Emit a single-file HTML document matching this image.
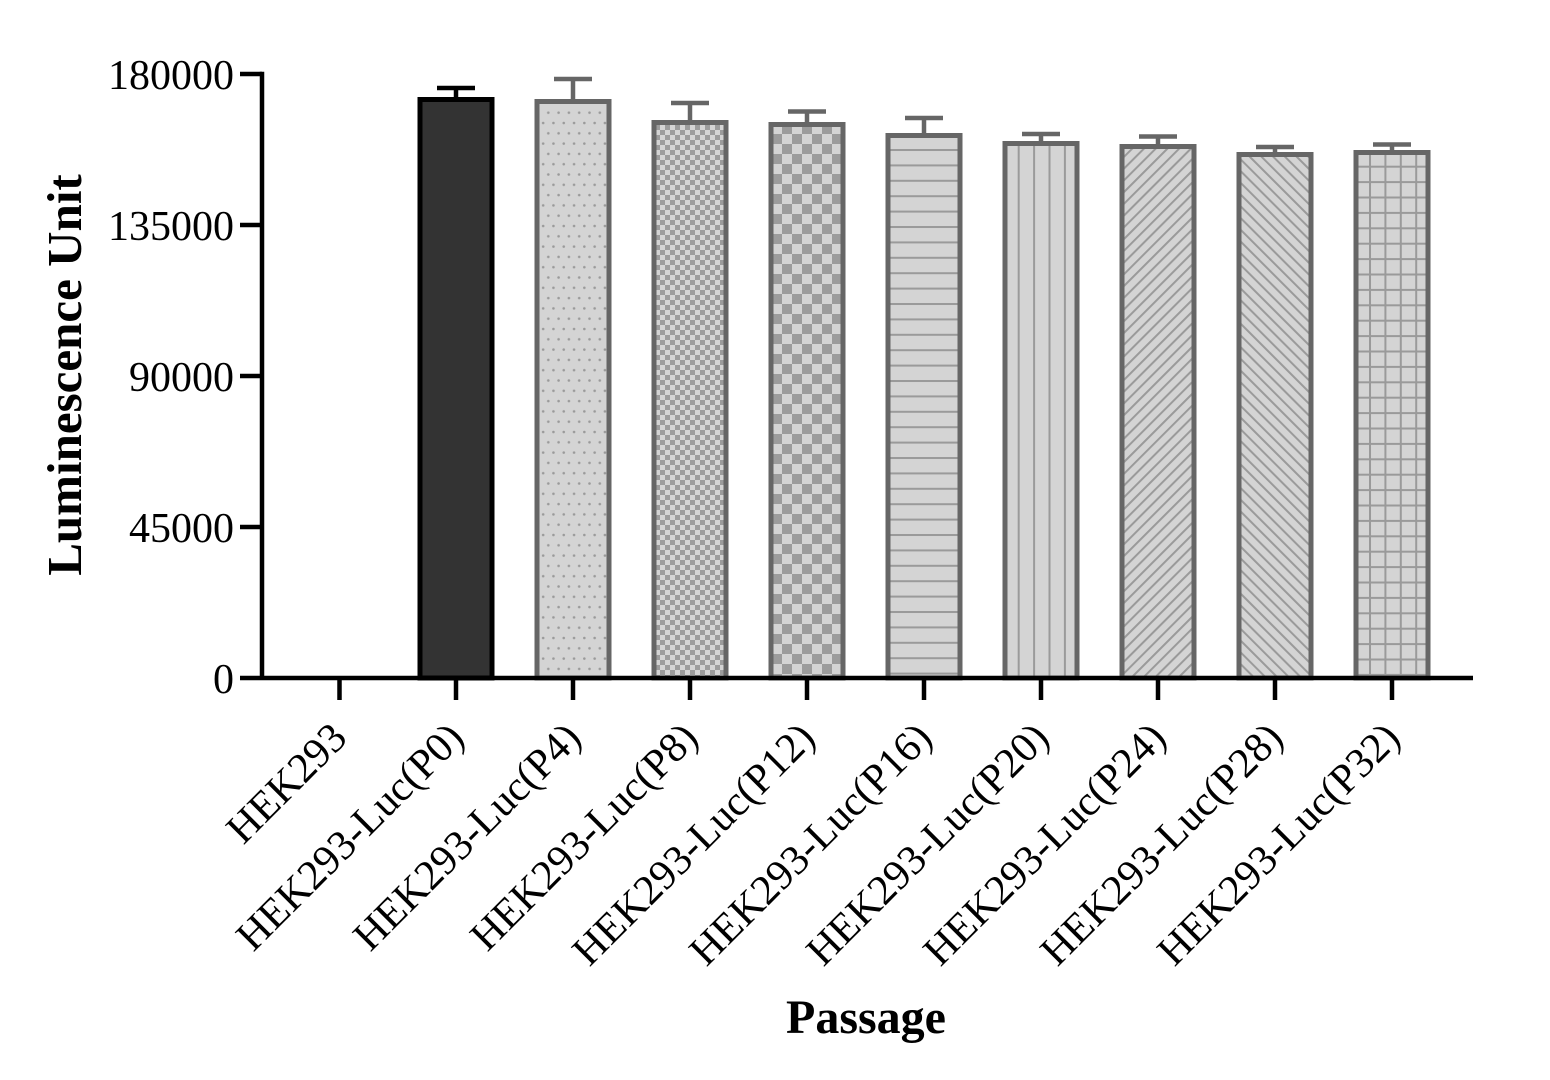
<!DOCTYPE html>
<html>
<head>
<meta charset="utf-8">
<style>
  html,body{margin:0;padding:0;background:#fff;}
  svg{display:block;}
  text{font-family:"Liberation Serif","Times New Roman",serif;fill:#000;}
</style>
</head>
<body>
<svg width="1550" height="1080" viewBox="0 0 1550 1080" xmlns="http://www.w3.org/2000/svg">
  <defs>
    <pattern id="dots" patternUnits="userSpaceOnUse" width="10.3" height="20.6" x="545.8" y="110.2">
      <rect width="10.3" height="20.6" fill="#d4d4d4"/>
      <circle cx="2.5" cy="2.5" r="1.3" fill="#9a9a9a"/>
      <circle cx="7.65" cy="12.8" r="1.3" fill="#9a9a9a"/>
    </pattern>
    <pattern id="chk5" patternUnits="userSpaceOnUse" width="10" height="10" x="0" y="0">
      <rect width="10" height="10" fill="#d4d4d4"/>
      <rect width="5" height="5" fill="#9c9c9c"/>
      <rect x="5" y="5" width="5" height="5" fill="#9c9c9c"/>
    </pattern>
    <pattern id="chk10" patternUnits="userSpaceOnUse" width="20" height="20" x="2" y="4">
      <rect width="20" height="20" fill="#d4d4d4"/>
      <rect width="10" height="10" fill="#9c9c9c"/>
      <rect x="10" y="10" width="10" height="10" fill="#9c9c9c"/>
    </pattern>
    <pattern id="hl" patternUnits="userSpaceOnUse" width="20" height="15.4" x="0" y="149">
      <rect width="20" height="15.4" fill="#d4d4d4"/>
      <rect width="20" height="2" fill="#9a9a9a"/>
    </pattern>
    <pattern id="vl" patternUnits="userSpaceOnUse" width="15.4" height="20" x="1017.7" y="0">
      <rect width="15.4" height="20" fill="#d4d4d4"/>
      <rect width="2" height="20" fill="#9a9a9a"/>
    </pattern>
    <pattern id="dup" patternUnits="userSpaceOnUse" width="8.3" height="20" patternTransform="rotate(45)">
      <rect width="8.3" height="20" fill="#d4d4d4"/>
      <rect width="2" height="20" fill="#9a9a9a"/>
    </pattern>
    <pattern id="ddn" patternUnits="userSpaceOnUse" width="8.3" height="20" patternTransform="rotate(-45)">
      <rect width="8.3" height="20" fill="#d4d4d4"/>
      <rect width="2" height="20" fill="#9a9a9a"/>
    </pattern>
    <pattern id="grid" patternUnits="userSpaceOnUse" width="15.4" height="15.4" x="1369" y="165.7">
      <rect width="15.4" height="15.4" fill="#d4d4d4"/>
      <rect width="2" height="15.4" fill="#9a9a9a"/>
      <rect width="15.4" height="2" fill="#9a9a9a"/>
    </pattern>
  </defs>

  <!-- error bars -->
  <g stroke-width="4.5" fill="none">
    <g stroke="#000">
      <line x1="456" y1="88" x2="456" y2="100"/>
      <line x1="437" y1="88" x2="475" y2="88"/>
    </g>
    <g stroke="#666">
      <line x1="573" y1="79" x2="573" y2="102"/>
      <line x1="554" y1="79" x2="592" y2="79"/>
      <line x1="690" y1="103" x2="690" y2="123"/>
      <line x1="671" y1="103" x2="709" y2="103"/>
      <line x1="807" y1="111.5" x2="807" y2="125"/>
      <line x1="788" y1="111.5" x2="826" y2="111.5"/>
      <line x1="924" y1="118" x2="924" y2="136"/>
      <line x1="905" y1="118" x2="943" y2="118"/>
      <line x1="1041" y1="134" x2="1041" y2="144"/>
      <line x1="1022" y1="134" x2="1060" y2="134"/>
      <line x1="1158" y1="136.5" x2="1158" y2="147"/>
      <line x1="1139" y1="136.5" x2="1177" y2="136.5"/>
      <line x1="1275" y1="147" x2="1275" y2="155"/>
      <line x1="1256" y1="147" x2="1294" y2="147"/>
      <line x1="1392" y1="144.5" x2="1392" y2="153"/>
      <line x1="1373" y1="144.5" x2="1411" y2="144.5"/>
    </g>
  </g>

  <!-- bars -->
  <g stroke-width="5">
    <rect x="420" y="99.5" width="72" height="578.5" fill="#333" stroke="#000"/>
    <rect x="537" y="101.5" width="72" height="576.5" fill="url(#dots)" stroke="#666"/>
    <rect x="654" y="122.5" width="72" height="555.5" fill="url(#chk5)" stroke="#666"/>
    <rect x="771" y="124.5" width="72" height="553.5" fill="url(#chk10)" stroke="#666"/>
    <rect x="888" y="135.5" width="72" height="542.5" fill="url(#hl)" stroke="#666"/>
    <rect x="1005" y="143.5" width="72" height="534.5" fill="url(#vl)" stroke="#666"/>
    <rect x="1122" y="146.5" width="72" height="531.5" fill="url(#dup)" stroke="#666"/>
    <rect x="1239" y="154.5" width="72" height="523.5" fill="url(#ddn)" stroke="#666"/>
    <rect x="1356" y="152.5" width="72" height="525.5" fill="url(#grid)" stroke="#666"/>
  </g>

  <!-- axes -->
  <g stroke="#000" stroke-width="4.5" fill="none">
    <line x1="262" y1="71.8" x2="262" y2="680"/>
    <line x1="240" y1="678" x2="1473" y2="678"/>
    <line x1="240" y1="74" x2="262" y2="74"/>
    <line x1="240" y1="225" x2="262" y2="225"/>
    <line x1="240" y1="376" x2="262" y2="376"/>
    <line x1="240" y1="527" x2="262" y2="527"/>
    <line x1="339.5" y1="678" x2="339.5" y2="700"/>
    <line x1="456" y1="678" x2="456" y2="700"/>
    <line x1="573" y1="678" x2="573" y2="700"/>
    <line x1="690" y1="678" x2="690" y2="700"/>
    <line x1="807" y1="678" x2="807" y2="700"/>
    <line x1="924" y1="678" x2="924" y2="700"/>
    <line x1="1041" y1="678" x2="1041" y2="700"/>
    <line x1="1158" y1="678" x2="1158" y2="700"/>
    <line x1="1275" y1="678" x2="1275" y2="700"/>
    <line x1="1392" y1="678" x2="1392" y2="700"/>
  </g>

  <!-- y tick labels -->
  <g font-size="42" text-anchor="end">
    <text x="234" y="89">180000</text>
    <text x="234" y="240">135000</text>
    <text x="234" y="391">90000</text>
    <text x="234" y="542">45000</text>
    <text x="234" y="693">0</text>
  </g>

  <!-- x tick labels -->
  <g font-size="42" text-anchor="end">
    <text transform="translate(349,740) rotate(-45)">HEK293</text>
    <text transform="translate(466,740) rotate(-45)">HEK293-Luc(P0)</text>
    <text transform="translate(583,740) rotate(-45)">HEK293-Luc(P4)</text>
    <text transform="translate(700,740) rotate(-45)">HEK293-Luc(P8)</text>
    <text transform="translate(817,740) rotate(-45)">HEK293-Luc(P12)</text>
    <text transform="translate(934,740) rotate(-45)">HEK293-Luc(P16)</text>
    <text transform="translate(1051,740) rotate(-45)">HEK293-Luc(P20)</text>
    <text transform="translate(1168,740) rotate(-45)">HEK293-Luc(P24)</text>
    <text transform="translate(1285,740) rotate(-45)">HEK293-Luc(P28)</text>
    <text transform="translate(1402,740) rotate(-45)">HEK293-Luc(P32)</text>
  </g>

  <!-- axis titles -->
  <text x="866" y="1033" font-size="48" font-weight="bold" text-anchor="middle">Passage</text>
  <text transform="translate(81,375) rotate(-90)" font-size="49" font-weight="bold" text-anchor="middle">Luminescence Unit</text>
</svg>
</body>
</html>
